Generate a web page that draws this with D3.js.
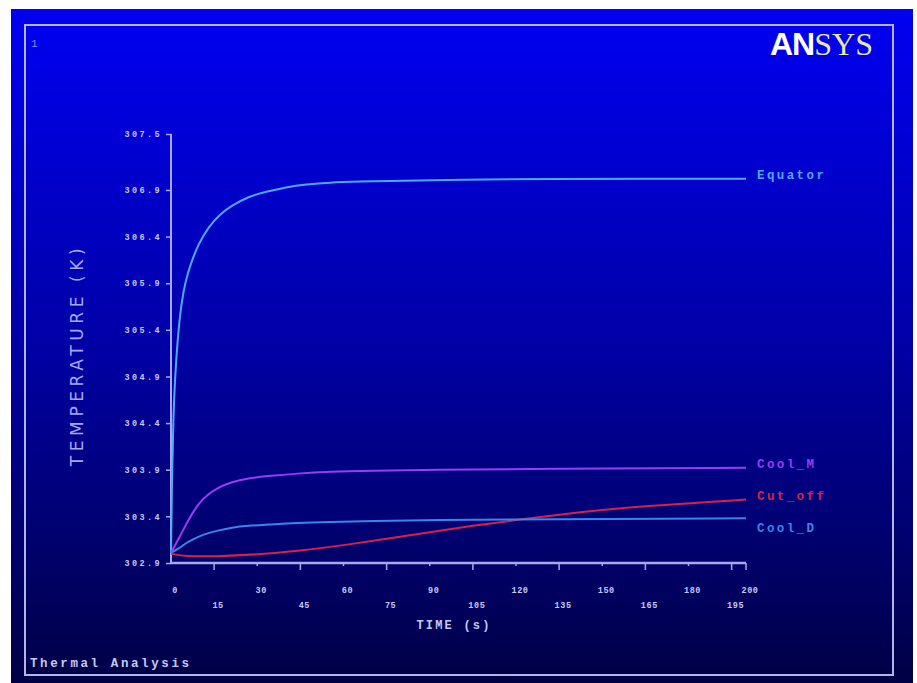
<!DOCTYPE html>
<html><head><meta charset="utf-8">
<script src="https://cdn.jsdelivr.net/npm/d3@7/dist/d3.min.js"></script>
<style>html,body{margin:0;padding:0;background:#fff;}svg{display:block;}</style>
</head><body>
<svg id="chart" width="917" height="683"></svg>
<script>
// ---- data ----
const timeTicks = [0,15,30,45,60,75,90,105,120,135,150,165,180,195,200];
const tempTicks = [302.9,303.4,303.9,304.4,304.9,305.4,305.9,306.4,306.9,307.5];
const tempTickLabels = ["302.9","303.4","303.9","304.4","304.9","305.4","305.9","306.4","306.9","307.5"];
const seriesNames = ["Equator","Cool_M","Cut_off","Cool_D"];
const equatorTime = [0,0.25,0.8,1.4,2.5,3.7,5,7,9.5,13,17,21,27,33,40,47,55,65,80,100,130,165,200];
const equatorTemp = [303.01,303.65,304.45,304.89,305.38,305.70,305.92,306.12,306.32,306.50,306.64,306.73,306.83,306.88,306.93,306.96,306.98,306.99,307.0,307.01,307.02,307.02,307.02];
const coolMTime = [0,2.5,5,7.5,10,13,16.5,21,27,33,44,55,70,90,130,200];
const coolMTemp = [303.01,303.15,303.30,303.44,303.55,303.64,303.71,303.77,303.81,303.83,303.86,303.88,303.89,303.90,303.91,303.92];
const cutOffTime = [0,5,15,30,45,60,75,90,105,120,135,150,165,180,200];
const cutOffTemp = [303.0,302.97,302.97,302.99,303.03,303.09,303.16,303.23,303.30,303.36,303.42,303.47,303.51,303.54,303.58];
const coolDTime = [0,2.5,5,7.5,10,13,16.5,21,27,33,44,55,70,90,130,200];
const coolDTemp = [303.01,303.05,303.11,303.15,303.19,303.22,303.25,303.28,303.30,303.31,303.33,303.34,303.35,303.36,303.37,303.38];
const seriesColors = ["#4eaaff","#9a3cf0","#d8204a","#3a86e8"];

// ---- layout ----
const svg = d3.select("#chart");
const defs = svg.append("defs");
const grad = defs.append("linearGradient").attr("id","bg").attr("x1",0).attr("y1",0).attr("x2",0).attr("y2",1);
grad.append("stop").attr("offset","0%").attr("stop-color","#0000f2");
grad.append("stop").attr("offset","50%").attr("stop-color","#0000a6");
grad.append("stop").attr("offset","100%").attr("stop-color","#000046");
svg.append("rect").attr("x",11).attr("y",9).attr("width",902).attr("height",674).attr("fill","url(#bg)");
svg.append("rect").attr("x",25).attr("y",25).attr("width",868).attr("height",650)
  .attr("fill","none").attr("stroke","#b4b4e6").attr("stroke-width",2);

const axisColor = "#a8a8f0";
const x = d3.scaleLinear().domain([0,200]).range([171,746]);
const y = d3.scaleLinear().domain([302.9,307.5]).range([563,134]);

// axes lines
svg.append("line").attr("x1",x(0)).attr("x2",x(0)).attr("y1",y(307.5)).attr("y2",y(302.9)+1)
  .attr("stroke",axisColor).attr("stroke-width",2);
svg.append("line").attr("x1",x(0)-1).attr("x2",x(200)).attr("y1",y(302.9)).attr("y2",y(302.9))
  .attr("stroke",axisColor).attr("stroke-width",2.5);

// y ticks
const yAxis = d3.axisLeft(y).tickValues(tempTicks).tickSize(5).tickPadding(4)
  .tickFormat((d,i)=>tempTickLabels[i]);
const gy = svg.append("g").attr("transform",`translate(${x(0)},0)`).call(yAxis);
gy.select(".domain").remove();
gy.selectAll(".tick line").attr("stroke",axisColor).attr("stroke-width",1.5);
gy.selectAll(".tick text").attr("fill","#c8c8f4").attr("font-family","Liberation Mono, monospace")
  .attr("font-weight","bold").attr("font-size",8.5).attr("letter-spacing","2.4px");

// x ticks
const gx = svg.append("g").attr("transform",`translate(0,${y(302.9)})`);
const xt = gx.selectAll("g.xt").data(timeTicks).join("g").attr("class","xt")
  .attr("transform",d=>`translate(${x(d)},0)`);
xt.filter(d=>d>0).append("line").attr("y1",0).attr("y2",d=> (d%30===15 || d===200) ? 7 : 3)
  .attr("stroke",axisColor).attr("stroke-width",1.5);
xt.append("text").text(d=>d)
  .attr("x",4).attr("y",d=> (d%30===15) ? 45 : 30)
  .attr("text-anchor","middle").attr("fill","#c8c8f4")
  .attr("font-family","Liberation Mono, monospace").attr("font-weight","bold").attr("font-size",8.5)
  .attr("letter-spacing","0.6px");

// axis titles
svg.append("text").text("TIME (s)").attr("x",454).attr("y",629).attr("text-anchor","middle")
  .attr("fill","#c8c8f4").attr("font-family","Liberation Mono, monospace").attr("font-weight","bold")
  .attr("font-size",12).attr("letter-spacing","2.2px");
svg.append("text").text("TEMPERATURE (K)")
  .attr("transform","translate(83,355) rotate(-90)").attr("text-anchor","middle")
  .attr("fill","#a8a8ec").attr("font-family","DejaVu Sans, sans-serif").attr("font-weight","normal")
  .attr("font-size",17).attr("letter-spacing","4.6px");

// series
const series = [
  {name:seriesNames[0], t:equatorTime, v:equatorTemp, c:seriesColors[0]},
  {name:seriesNames[1], t:coolMTime, v:coolMTemp, c:seriesColors[1]},
  {name:seriesNames[2], t:cutOffTime, v:cutOffTemp, c:seriesColors[2]},
  {name:seriesNames[3], t:coolDTime, v:coolDTemp, c:seriesColors[3]}
];
const line = d3.line().x(d=>x(d[0])).y(d=>y(d[1])).curve(d3.curveBasis);
series.forEach(s=>{
  svg.append("path").datum(s.t.map((t,i)=>[t,s.v[i]]))
    .attr("d",line).attr("fill","none").attr("stroke",s.c).attr("stroke-width",2);
});

// end labels with simple collision avoidance
const labels = series.map(s=>({name:s.name,c:s.c,y:y(s.v[s.v.length-1])-4}))
  .sort((a,b)=>a.y-b.y);
for(let i=1;i<labels.length;i++){ if(labels[i].y < labels[i-1].y+32) labels[i].y = labels[i-1].y+32; }
labels.forEach(l=>{
  svg.append("text").text(l.name).attr("x",x(200)+11).attr("y",l.y).attr("dy","0.35em")
    .attr("fill",l.c).attr("font-family","Liberation Mono, monospace").attr("font-weight","bold")
    .attr("font-size",12.5).attr("letter-spacing","2.4px");
});

// decorations
svg.append("text").text("1").attr("x",31).attr("y",47).attr("fill","#8a8aff")
  .attr("font-family","Liberation Mono, monospace").attr("font-size",11);
const logo = svg.append("text").attr("x",770).attr("y",55).attr("font-size",32);
logo.append("tspan").text("AN").attr("fill","#ffffff").attr("font-family","Liberation Sans, Arial, sans-serif")
  .attr("font-weight","bold").attr("letter-spacing","-1px");
logo.append("tspan").text("SYS").attr("fill","#e6e6a6").attr("font-family","Liberation Serif, Times, serif");
svg.append("text").text("Thermal Analysis").attr("x",30).attr("y",667).attr("fill","#c8c8f4")
  .attr("font-family","Liberation Mono, monospace").attr("font-weight","bold").attr("font-size",12.5)
  .attr("letter-spacing","2.6px");
</script>
</body></html>
